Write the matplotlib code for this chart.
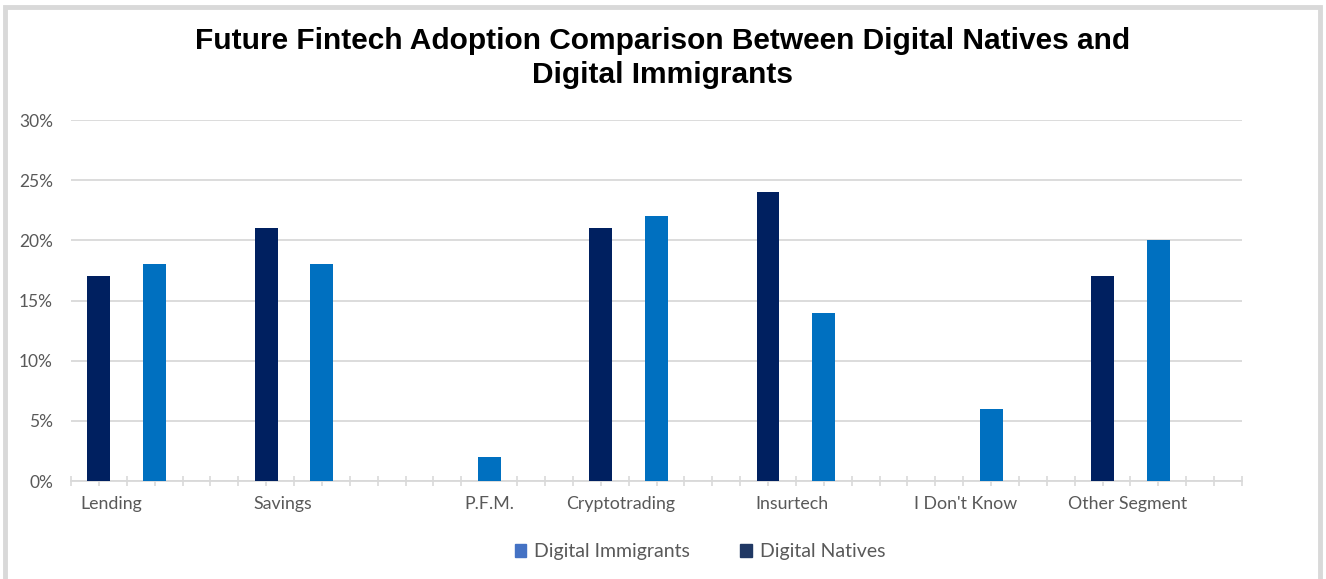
"""
Future fintech adoption: digital natives vs digital immigrants (Excel-style bar chart).

Output:
    out.png
"""
import matplotlib.pyplot as plt
import numpy as np
from matplotlib.patches import Patch, Rectangle
from matplotlib.ticker import FixedLocator, PercentFormatter

CATEGORIES = ["Lending", "Savings", "P.F.M.", "Cryptotrading", "Insurtech",
              "I Don't Know", "Other Segment"]
NATIVES = [17, 21, 0, 21, 24, 0, 17]
IMMIGRANTS = [18, 18, 2, 22, 14, 6, 20]
YTICKS = [0, 5, 10, 15, 20, 25, 30]

# layout: the Excel axis is split into 6 slots per category
SLOTS = 6
LABEL_OFFSET = [1.45, 1.6, 3.0, 1.7, 1.85, 2.1, 1.9]

NAVY = "#002060"
BLUE = "#0070C0"
GREY_TXT = "#595959"
GRID = "#d9d9d9"

plt.rcParams["font.family"] = ["Lato", "DejaVu Sans"]

fig = plt.figure(figsize=(13.26, 5.79), dpi=100)
ax = fig.add_axes([71 / 1326, 98 / 579, 1171 / 1326, 361 / 579])

base = np.arange(len(CATEGORIES)) * SLOTS
ax.bar(base + 1, NATIVES, width=0.82, color=NAVY, zorder=3)
ax.bar(base + 3, IMMIGRANTS, width=0.82, color=BLUE, zorder=3)

ax.set_xlim(0, SLOTS * len(CATEGORIES))
ax.set_ylim(0, 30)
ax.set_yticks(YTICKS)
ax.yaxis.set_major_formatter(PercentFormatter(decimals=0))
ax.grid(axis="y", color=GRID, linewidth=1.3, zorder=0)
ax.tick_params(axis="y", length=0, pad=13, labelsize=12.5, labelcolor=GREY_TXT)

ax.set_xticks(base + np.array(LABEL_OFFSET))
ax.set_xticklabels(CATEGORIES)
ax.xaxis.set_minor_locator(FixedLocator(np.arange(0, SLOTS * len(CATEGORIES) + 1)))
ax.tick_params(axis="x", which="major", length=0, pad=11, labelsize=12.8,
               labelcolor=GREY_TXT)
ax.tick_params(axis="x", which="minor", direction="inout", length=7,
               color=GRID, width=1.2)

for side in ("top", "right", "left"):
    ax.spines[side].set_visible(False)
ax.spines["bottom"].set_color(GRID)
ax.spines["bottom"].set_linewidth(1.3)

fig.text(0.5, 1 - 41 / 579, "Future Fintech Adoption Comparison Between Digital Natives and",
         ha="center", va="center", fontsize=21.5, fontweight="bold",
         family="Liberation Sans")
fig.text(0.5, 1 - 75 / 579, "Digital Immigrants", ha="center", va="center",
         fontsize=21.5, fontweight="bold", family="Liberation Sans")

handles = [Patch(color="#4472C4", label="Digital Immigrants"),
           Patch(color="#203864", label="Digital Natives")]
fig.legend(handles=handles, loc="center", bbox_to_anchor=(700 / 1326, 1 - 552 / 579),
           ncol=2, frameon=False, fontsize=14, labelcolor=GREY_TXT,
           handlelength=0.6, handleheight=0.6, handletextpad=0.4, columnspacing=2.6)

# light grey frame around the chart area
fig.add_artist(Rectangle((5 / 1326, -0.02), 1315 / 1326, 1 - 7 / 579 + 0.02,
                         transform=fig.transFigure, fill=False,
                         edgecolor=GRID, linewidth=3.5))

fig.savefig("out.png", dpi=100)
